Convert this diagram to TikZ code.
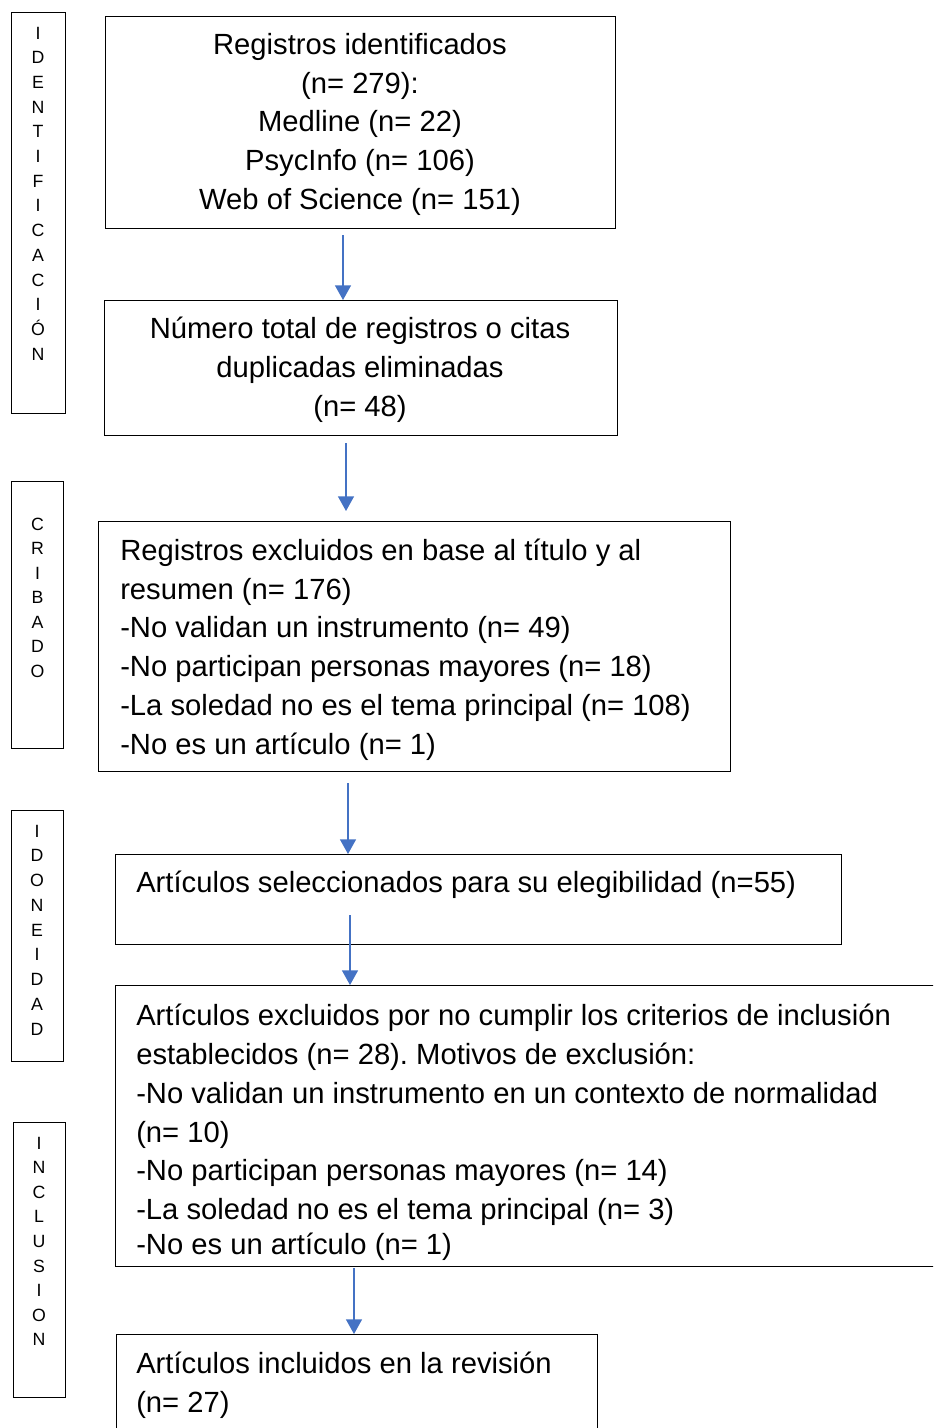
\documentclass[tikz,border=0pt]{standalone}
\usepackage{fontspec}
\setmainfont{Liberation Sans}
\usetikzlibrary{arrows.meta}
\definecolor{arrblue}{RGB}{68,114,196}
\newcommand{\mfont}{\fontsize{21.9pt}{29.25pt}\selectfont}
\newcommand{\sfont}{\fontsize{13.3pt}{18pt}\selectfont}
\frenchspacing
\begin{document}
\begin{tikzpicture}[x=0.75pt,y=-0.75pt,
  box/.style={draw=black, line width=0.9pt, anchor=north west, inner sep=0pt},
  sidebar/.style={draw=black, line width=0.8pt, anchor=north west, inner sep=0pt},
  cline/.style={font=\mfont, inner sep=0pt, anchor=base},
  lline/.style={font=\mfont, inner sep=0pt, anchor=base west},
  sletter/.style={font=\sfont, inner sep=0pt, anchor=base},
  arr/.style={draw=arrblue, line width=1pt, -{Triangle[width=12pt,length=11pt]}, arrblue}]
\useasboundingbox (0,0) rectangle (933,1428);
\clip (0,0) rectangle (933,1428);
\fill[white] (0,0) rectangle (933,1428);

% side bars
\node[sidebar, minimum width=40.5pt, minimum height=300.75pt] (s1) at (11,12) {};
\node[sidebar, minimum width=39pt, minimum height=200.25pt] (s2) at (11,481) {};
\node[sidebar, minimum width=39pt, minimum height=188.25pt] (s3) at (11,810) {};
\node[sidebar, minimum width=39pt, minimum height=206.25pt] (s4) at (13,1122) {};

\foreach \l [count=\i from 0] in {I,D,E,N,T,I,F,I,C,A,C,I,Ó,N}
  \node[sletter] (s1l\i) at (38,39+24.7*\i) {\l};
\foreach \l [count=\i from 0] in {C,R,I,B,A,D,O}
  \node[sletter] (s2l\i) at (37.5,530+24.5*\i) {\l};
\foreach \l [count=\i from 0] in {I,D,O,N,E,I,D,A,D}
  \node[sletter] (s3l\i) at (37,837+24.75*\i) {\l};
\foreach \l [count=\i from 0] in {I,N,C,L,U,S,I,O,N}
  \node[sletter] (s4l\i) at (39,1149+24.6*\i) {\l};

% main boxes
\node[box, minimum width=382.5pt, minimum height=159pt] (b1) at (105,16) {};
\node[box, minimum width=384.75pt, minimum height=101.25pt] (b2) at (104,300) {};
\node[box, minimum width=474pt, minimum height=187.5pt] (b3) at (98,521) {};
\node[box, minimum width=544.5pt, minimum height=67.5pt] (b4) at (115,854) {};
\node[box, minimum width=633.75pt, minimum height=210.75pt] (b5) at (115,985) {};
\node[box, minimum width=360.75pt, minimum height=90pt] (b6) at (116,1334) {};

% box texts
\node[cline] (t1a) at (360,54.5) {Registros identificados};
\node[cline] (t1b) at (360,93.5) {(n= 279):};
\node[cline] (t1c) at (360,131.5) {Medline (n= 22)};
\node[cline] (t1d) at (360,170.5) {PsycInfo (n= 106)};
\node[cline] (t1e) at (360,209.5) {Web of Science (n= 151)};

\node[cline] (t2a) at (360,338.5) {Número total de registros o citas};
\node[cline] (t2b) at (360,377.5) {duplicadas eliminadas};
\node[cline] (t2c) at (360,416.5) {(n= 48)};

\node[lline] (t3a) at (120,560) {Registros excluidos en base al título y al};
\node[lline] (t3b) at (120,599) {resumen (n= 176)};
\node[lline] (t3c) at (120,637.5) {-No validan un instrumento (n= 49)};
\node[lline] (t3d) at (120,676) {-No participan personas mayores (n= 18)};
\node[lline] (t3e) at (120,715) {-La soledad no es el tema principal (n= 108)};
\node[lline] (t3f) at (120,754) {-No es un artículo (n= 1)};

\node[lline] (t4a) at (136,892.5) {Artículos seleccionados para su elegibilidad (n=55)};

\node[lline] (t5a) at (136,1025) {Artículos excluidos por no cumplir los criterios de inclusión};
\node[lline] (t5b) at (136,1064) {establecidos (n= 28). Motivos de exclusión:};
\node[lline] (t5c) at (136,1103) {-No validan un instrumento en un contexto de normalidad};
\node[lline] (t5d) at (136,1142) {(n= 10)};
\node[lline] (t5e) at (136,1180) {-No participan personas mayores (n= 14)};
\node[lline] (t5f) at (136,1219) {-La soledad no es el tema principal (n= 3)};
\node[lline] (t5g) at (136,1254) {-No es un artículo (n= 1)};

\node[lline] (t6a) at (136,1373.5) {Artículos incluidos en la revisión};
\node[lline] (t6b) at (136,1412) {(n= 27)};

% arrows
\coordinate (a1s) at (343,235);
\coordinate (a2s) at (346,443);
\coordinate (a2e) at (346,511);
\coordinate (a3s) at (348,783);
\coordinate (a4s) at (350,915);
\coordinate (a5s) at (354,1268);
\draw[arr] (a1s) -- (a1s |- b2.north);
\draw[arr] (a2s) -- (a2e);
\draw[arr] (a3s) -- (a3s |- b4.north);
\draw[arr] (a4s) -- (a4s |- b5.north);
\draw[arr] (a5s) -- (a5s |- b6.north);
\end{tikzpicture}
\end{document}
